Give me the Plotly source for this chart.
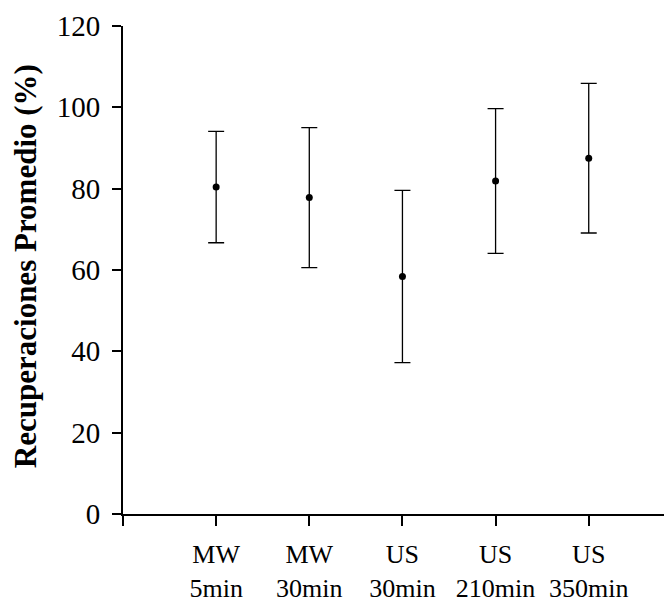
import plotly.graph_objects as go

categories = ["MW<br>5min", "MW<br>30min", "US<br>30min", "US<br>210min", "US<br>350min"]
x_pos = [1, 2, 3, 4, 5]
means = [80.4, 77.8, 58.4, 81.9, 87.5]
errors = [13.7, 17.2, 21.2, 17.8, 18.4]
y_ticks = [0, 20, 40, 60, 80, 100, 120]

FONT = "Liberation Serif, Times New Roman, serif"

fig = go.Figure()
fig.add_trace(go.Scatter(
    x=x_pos, y=means, mode="markers",
    marker=dict(color="black", size=7),
    error_y=dict(type="data", array=errors, visible=True,
                 color="black", thickness=1.3, width=8),
    showlegend=False,
))

# page body has an 8px margin, so the figure is sized to fit the remaining window
fig.update_layout(
    width=664, height=589,
    margin=dict(l=115, r=0, t=18, b=83),
    paper_bgcolor="white", plot_bgcolor="white",
    font=dict(family=FONT, color="black"),
)
fig.update_xaxes(
    range=[0, 5.894],
    automargin=False,
    tickmode="array",
    tickvals=[0] + x_pos,
    ticktext=[""] + categories,
    ticks="outside", ticklen=10, tickwidth=2, tickcolor="black",
    showline=True, linewidth=2, linecolor="black",
    showgrid=False, zeroline=False,
    tickfont=dict(size=26, family=FONT, color="black"),
    ticklabelstandoff=6,
)
fig.update_yaxes(
    range=[0, 120],
    automargin=False,
    tickmode="array", tickvals=y_ticks,
    ticks="outside", ticklen=9, tickwidth=2, tickcolor="black",
    showline=True, linewidth=2, linecolor="black",
    showgrid=False, zeroline=False,
    tickfont=dict(size=29, family=FONT, color="black"),
    ticklabelstandoff=6,
    title=dict(text="<b>\u00a0Recuperaciones Promedio (%)</b>",
               font=dict(size=31, family=FONT, color="black"),
               standoff=12),
)

fig.write_html("out.html")
